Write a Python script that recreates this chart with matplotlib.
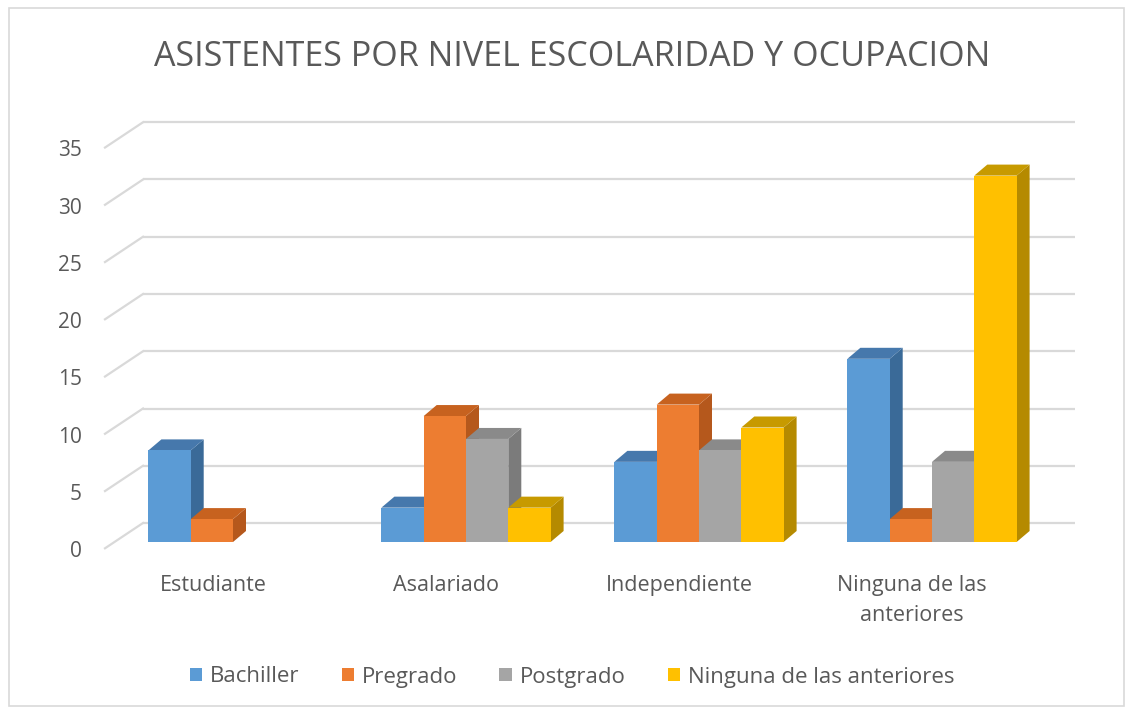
import matplotlib
matplotlib.use("Agg")
import matplotlib.pyplot as plt
from matplotlib.patches import Polygon, Rectangle, Patch

# ---- data ----
categories = ["Estudiante", "Asalariado", "Independiente", "Ninguna de las\nanteriores"]
series_names = ["Bachiller", "Pregrado", "Postgrado", "Ninguna de las anteriores"]
bachiller = [8, 3, 7, 16]
pregrado = [2, 11, 12, 2]
postgrado = [0, 9, 8, 7]
ninguna = [0, 3, 10, 32]
yticks = [0, 5, 10, 15, 20, 25, 30, 35]
title = "ASISTENTES POR NIVEL ESCOLARIDAD Y OCUPACION"

series = [bachiller, pregrado, postgrado, ninguna]
front_cols = ["#5B9BD5", "#ED7D31", "#A5A5A5", "#FFC000"]
side_cols = ["#3A6A98", "#B5581C", "#7B7B7B", "#B58A00"]
top_cols = ["#4678AC", "#C7621F", "#8A8A8A", "#C79A00"]

plt.rcParams['font.family'] = ['Open Sans', 'DejaVu Sans']
W, H = 1128, 712
fig = plt.figure(figsize=(W / 100, H / 100), dpi=100)
ax = fig.add_axes([0, 0, 1, 1])
# pixel mapping: x_px = 233 + 233*x ; y_px(from top) = 542 - 11.45*v
XS, X0 = 233.0, 233.0
YS, Y0 = 11.45, 542.0
ax.set_xlim((0 - X0) / XS, (W - X0) / XS)
ax.set_ylim((Y0 - H) / YS, (Y0 - 0) / YS)
ax.axis("off")

def px2x(p):
    return (p - X0) / XS

grid_dx = 38 / XS
grid_dy = 19 / YS
front_left = px2x(105)
grid_right = px2x(1075)
gcol = "#D9D9D9"
for t in yticks:
    yb = t + grid_dy
    yf = t - 0.55
    ax.plot([front_left + grid_dx, grid_right], [yb, yb], color=gcol, lw=1.6, zorder=1,
            solid_capstyle="butt")
    ax.plot([front_left, front_left + grid_dx], [yf, yb], color=gcol, lw=1.6, zorder=1)
    ax.text(px2x(82), t - 0.85, str(t), ha="right", va="center", fontsize=15,
            color="#595959")

bw = 42.3 / XS
bdx = 13 / XS
bdy = 11 / YS
n = len(series)
z = 2
for i in range(len(categories)):
    for j in range(n):
        v = series[j][i]
        x0 = i - n * bw / 2 + j * bw
        x1 = x0 + bw
        if v > 0:
            side = Polygon([(x1, 0), (x1 + bdx, bdy), (x1 + bdx, v + bdy), (x1, v)],
                           closed=True, facecolor=side_cols[j], edgecolor="none", zorder=z)
            top = Polygon([(x0, v), (x0 + bdx, v + bdy), (x1 + bdx, v + bdy), (x1, v)],
                          closed=True, facecolor=top_cols[j], edgecolor="none", zorder=z)
            ax.add_patch(side)
            ax.add_patch(top)
            ax.bar([x0], [v], width=bw, align="edge", color=front_cols[j], zorder=z + 0.5,
                   edgecolor="none")
        z += 1

for i, c in enumerate(categories):
    ax.text(i - 20 / XS, (Y0 - 575) / YS, c, ha="center", va="top", fontsize=15.5,
            color="#595959", linespacing=1.55)

ax.text(px2x(572), (Y0 - 57) / YS, title, ha="center", va="center", fontsize=24.5,
        color="#595959")

handles = [Patch(facecolor=front_cols[k], edgecolor="none") for k in range(n)]
fig.legend(handles, series_names, loc="center", bbox_to_anchor=(572 / W, 1 - 677 / H),
           ncol=4, frameon=False, fontsize=16, handlelength=0.55, handleheight=0.55,
           handletextpad=0.35, columnspacing=1.9, labelcolor="#595959")

fig.patches.append(Rectangle((9 / W, 1 - 706 / H), (1124 - 9) / W, (706 - 8) / H,
                             transform=fig.transFigure, fill=False, edgecolor="#D9D9D9",
                             lw=1.2))

fig.savefig("out.png", dpi=100, facecolor="white")
